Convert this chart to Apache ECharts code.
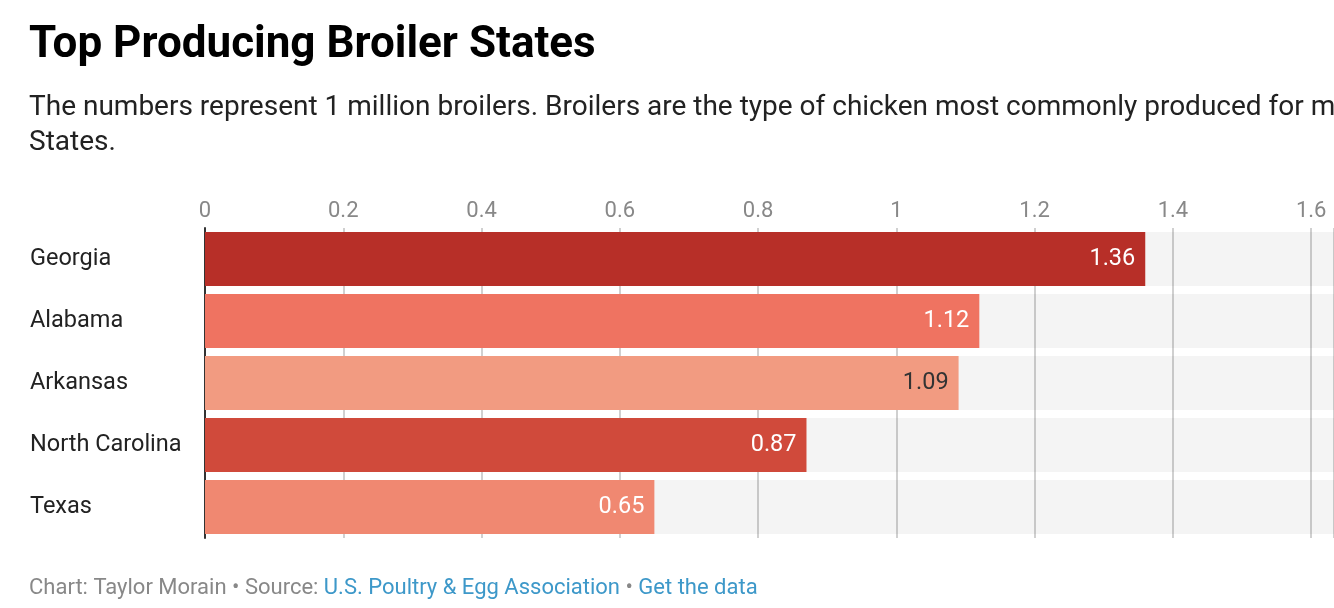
<!DOCTYPE html>
<html>
<head>
<meta charset="utf-8">
<script src="https://cdn.jsdelivr.net/npm/echarts@6/dist/echarts.min.js"></script>
<style>
  html, body { margin: 0; padding: 0; background: #fff; }
  #chart { width: 1334px; height: 608px; }
</style>
</head>
<body>
<div id="chart"></div>
<script>
const states = ['Georgia', 'Alabama', 'Arkansas', 'North Carolina', 'Texas'];
const broilers = [1.36, 1.12, 1.09, 0.87, 0.65];
const barColors = ['#b72f28', '#ef7361', '#f29b81', '#d04a3b', '#f08871'];
const labelColors = ['#fff', '#fff', '#333', '#fff', '#fff'];

var myChart = echarts.init(document.getElementById('chart'));
var option;

option = {
    textStyle: { fontFamily: 'Roboto' },
    title: [
        {
            text: 'Top Producing Broiler States',
            left: 24,
            top: 19,
            textStyle: { fontSize: 44, fontWeight: 'bold', color: '#000', fontFamily: 'Roboto' }
        },
        {
            text: 'The numbers represent 1 million broilers. Broilers are the type of chicken most commonly produced for meat in the United\nStates.',
            left: 24,
            top: 85,
            textStyle: { fontSize: 28, fontWeight: 'normal', color: '#222', lineHeight: 35, fontFamily: 'Roboto' }
        },
        {
            text: '{g|Chart: Taylor Morain • Source: }{b|U.S. Poultry & Egg Association}{g| • }{b|Get the data}',
            left: 24,
            top: 572,
            textStyle: {
                fontSize: 22,
                fontWeight: 'normal',
                rich: {
                    g: { color: '#888', fontSize: 22, fontFamily: 'Roboto' },
                    b: { color: '#3d98c9', fontSize: 22, fontFamily: 'Roboto' }
                }
            }
        }
    ],
    grid: { left: 205, right: 0, top: 228, bottom: 70, containLabel: false },
    xAxis: {
        type: 'value',
        position: 'top',
        min: 0,
        max: 1.633,
        interval: 0.2,
        axisLine: { show: false },
        axisTick: { show: false },
        axisLabel: {
            color: '#888',
            fontSize: 22,
            margin: 6,
            showMaxLabel: false,
            formatter: v => (Math.abs(v * 5 - Math.round(v * 5)) < 1e-6 ? String(+v.toFixed(1)) : '')
        },
        splitLine: { lineStyle: { color: '#d0d0d0', width: 2 } }
    },
    yAxis: {
        type: 'category',
        data: states,
        inverse: true,
        axisTick: { show: false },
        axisLine: { show: true, lineStyle: { color: '#333', width: 2 } },
        axisLabel: { color: '#222', fontSize: 23.5, align: 'left', margin: 175, padding: [9, 0, 0, 0] }
    },
    series: [
        {
            type: 'bar',
            barWidth: 54,
            data: broilers.map((v, i) => ({
                value: v,
                itemStyle: { color: barColors[i] },
                label: { color: labelColors[i] }
            })),
            showBackground: true,
            backgroundStyle: { color: 'rgba(0,0,0,0.045)' },
            label: {
                show: true,
                position: 'insideRight',
                distance: 10,
                fontSize: 23.5,
                formatter: p => p.value.toFixed(2)
            }
        }
    ]
};
option && myChart.setOption(option);
</script>
</body>
</html>
